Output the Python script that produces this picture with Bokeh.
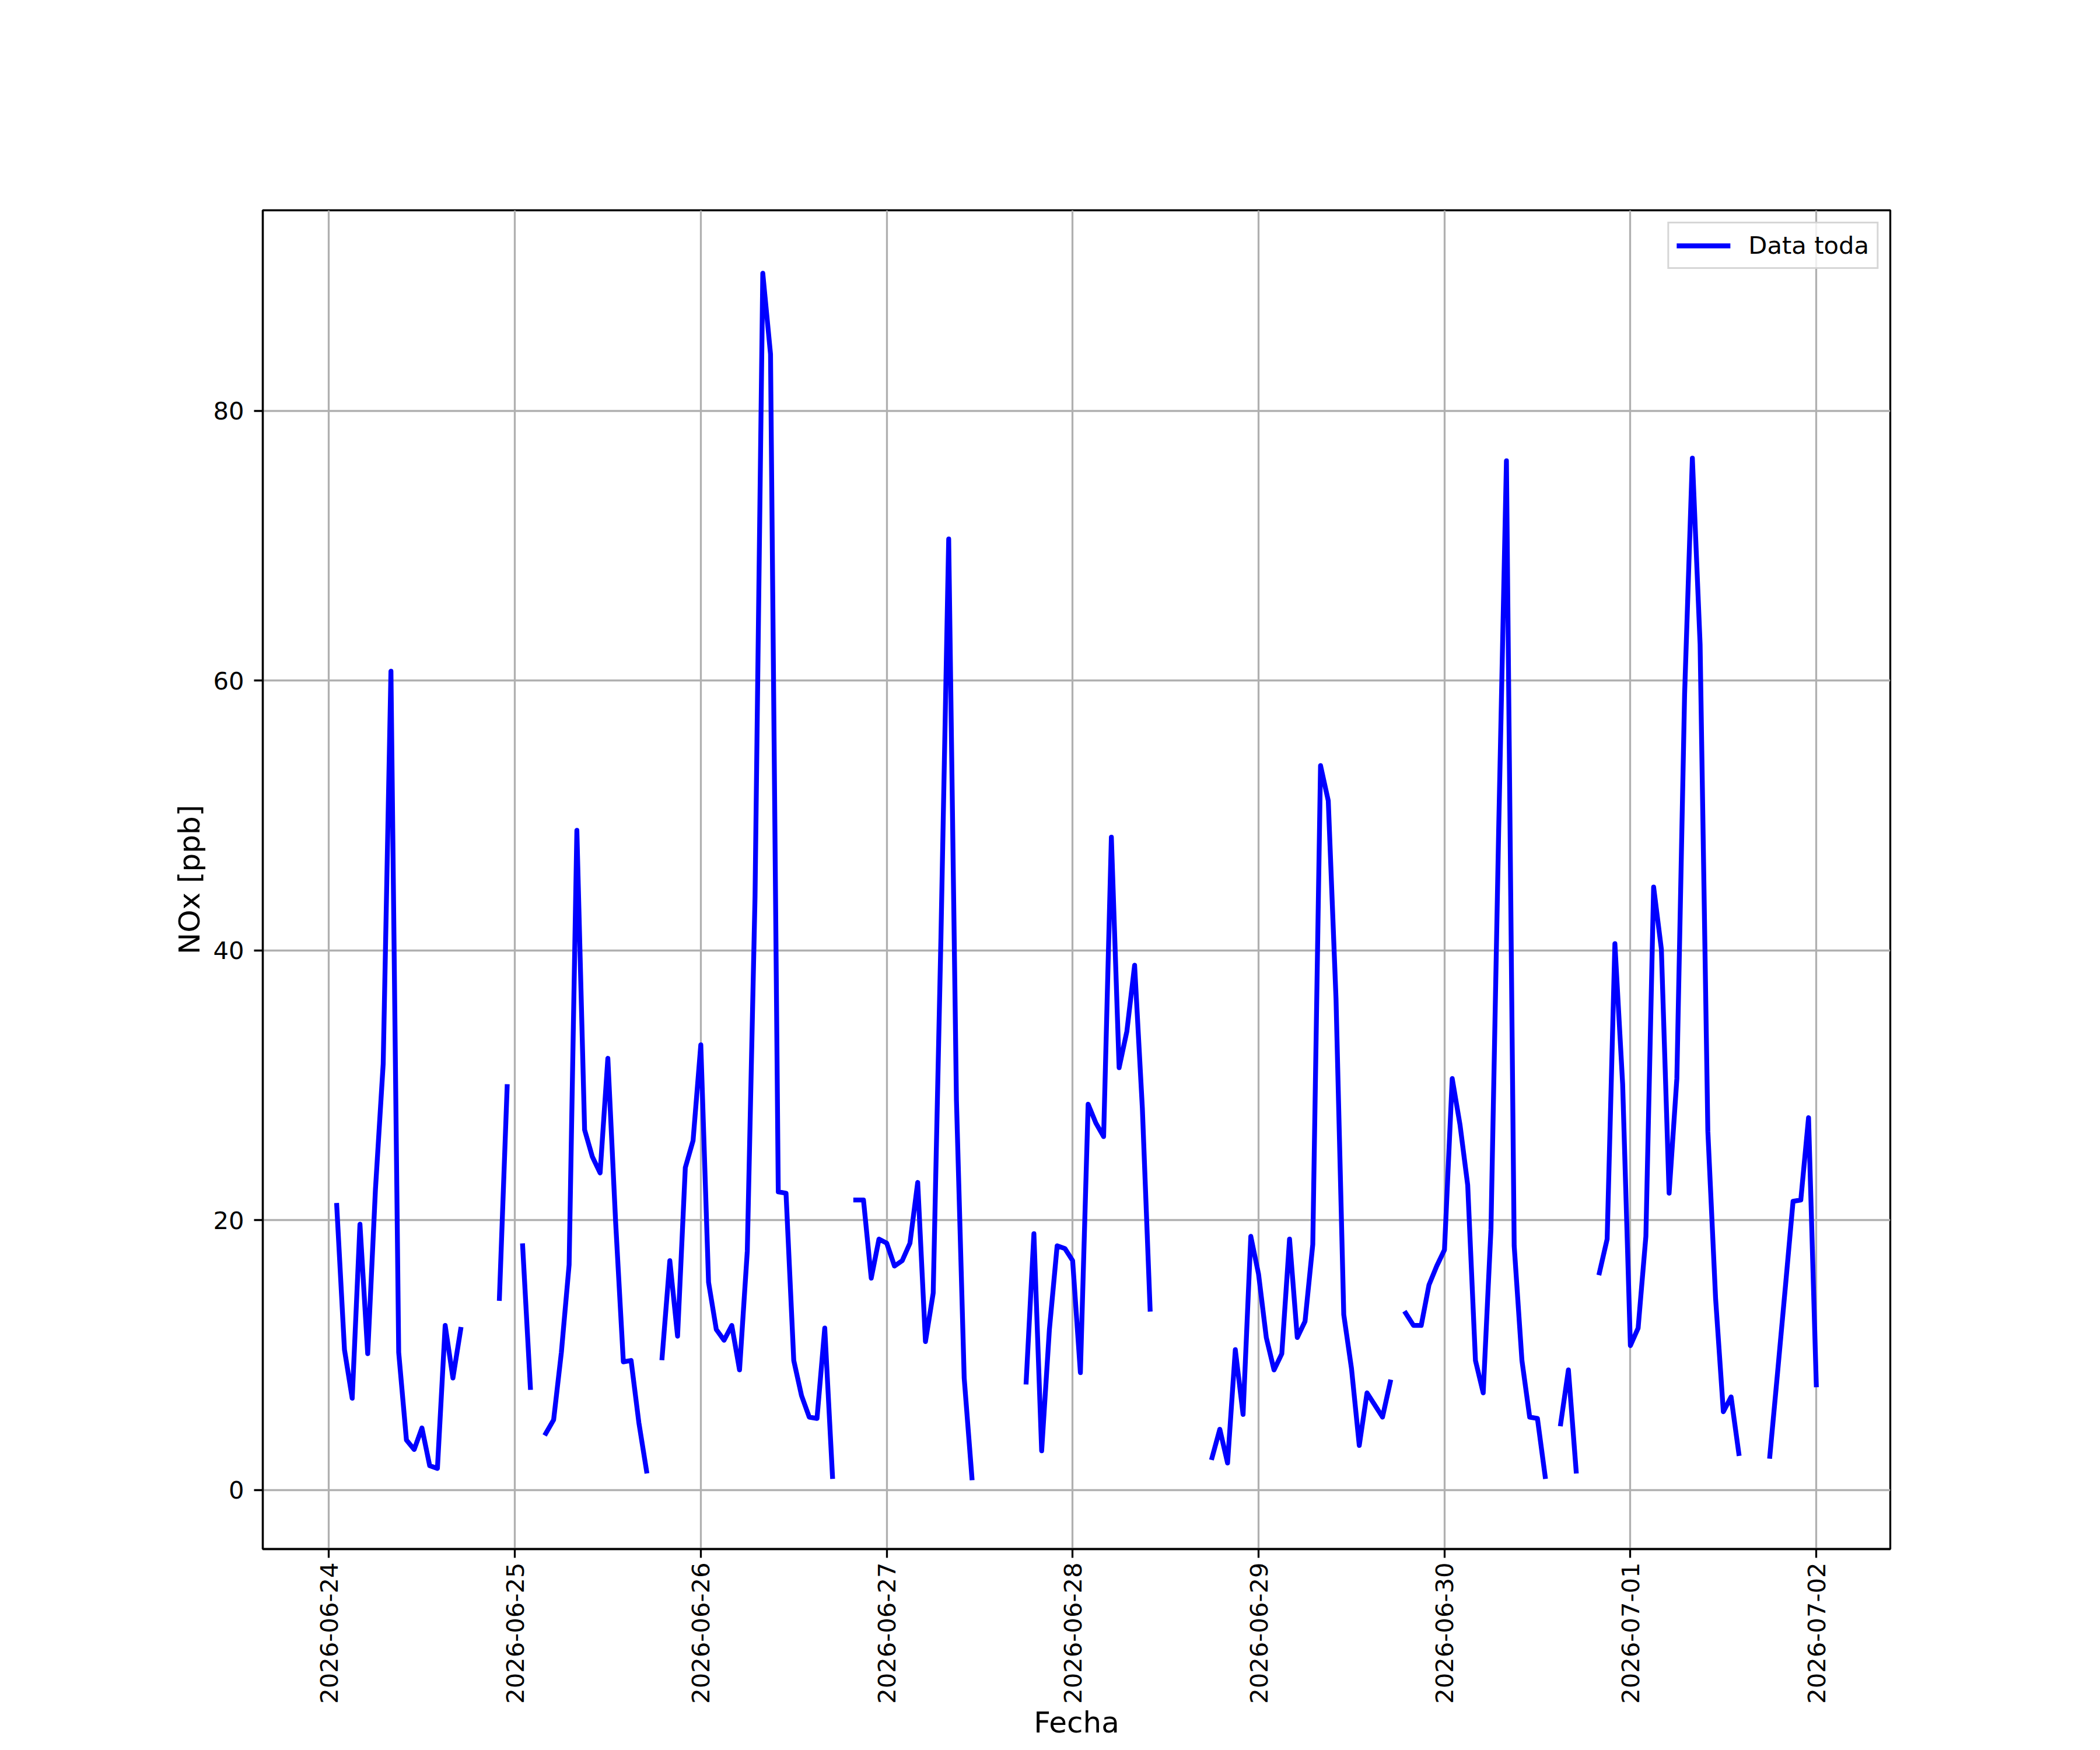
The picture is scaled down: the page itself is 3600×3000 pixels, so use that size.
import numpy as np
import pandas as pd
from bokeh.plotting import figure
from bokeh.models import FixedTicker, DatetimeTickFormatter, Range1d, ColumnDataSource
from bokeh.embed import file_html
from bokeh.resources import INLINE

nan = np.nan

# Hourly NOx [ppb], starting 2026-06-24 01:00
start_time = "2026-06-24 01:00"
nox = [
    21.1, 10.4, 6.8, 19.7, 10.1, 22.3, 31.6, 60.7, 10.2, 3.7, 3.0, 4.6,          # h1-12
    1.8, 1.6, 12.2, 8.3, 11.9, nan, nan, nan, nan, 14.2, 29.9, nan,            # h13-24
    18.1, 7.6, nan, 4.2, 5.2, 10.2, 16.7, 48.9, 26.7, 24.7, 23.5, 32.0,        # h25-36
    19.9, 9.5, 9.6, 5.0, 1.4, nan, 9.8, 17.0, 11.4, 23.9, 25.9, 33.0,          # h37-48
    15.4, 11.9, 11.1, 12.2, 8.9, 17.7, 44.0, 90.2, 84.2, 22.1, 22.0, 9.6,      # h49-60
    7.0, 5.4, 5.3, 12.0, 1.0, nan, nan, 21.5, 21.5, 15.7, 18.6, 18.3,          # h61-72
    16.6, 17.0, 18.3, 22.8, 11.0, 14.6, 41.0, 70.5, 28.9, 8.3, 0.9, nan,       # h73-84
    nan, nan, nan, nan, nan, 8.0, 19.0, 2.9, 11.9, 18.1, 17.9, 17.0,           # h85-96
    8.7, 28.6, 27.2, 26.2, 48.4, 31.3, 34.0, 38.9, 28.3, 13.4, nan, nan,       # h97-108
    nan, nan, nan, nan, nan, 2.4, 4.5, 2.0, 10.4, 5.6, 18.8, 16.0,             # h109-120
    11.3, 8.9, 10.1, 18.6, 11.3, 12.5, 18.2, 53.7, 51.1, 36.4, 13.0, 9.0,      # h121-132
    3.3, 7.2, 6.3, 5.4, 8.0, nan, 13.1, 12.2, 12.2, 15.2, 16.6, 17.8,          # h133-144
    30.5, 27.1, 22.6, 9.6, 7.2, 19.3, 49.0, 76.3, 18.1, 9.6, 5.4, 5.3,         # h145-156
    1.0, nan, 4.9, 8.9, 1.4, nan, nan, 16.1, 18.6, 40.5, 30.1, 10.7,           # h157-168
    12.0, 18.8, 44.7, 40.1, 22.0, 30.5, 59.0, 76.5, 62.7, 26.6, 14.2, 5.8,     # h169-180
    6.9, 2.7, nan, nan, nan, 2.5, 8.7, 15.0, 21.4, 21.5, 27.6, 7.8,            # h181-192
]
times = pd.date_range(start_time, periods=len(nox), freq="h")

tick_days = pd.date_range("2026-06-24", "2026-07-02", freq="D")
y_ticks = [0, 20, 40, 60, 80]

DAY_MS = 86400000.0
base_ms = pd.Timestamp("2026-06-24").value / 1e6
tick_ms = [t.value / 1e6 for t in tick_days]

source = ColumnDataSource(data=dict(t=times, v=nox))

W, H = 3584, 2984
p = figure(
    width=W, height=H,
    x_axis_type="datetime",
    output_backend="svg",
    toolbar_location=None,
    x_range=Range1d(base_ms - 0.356 * DAY_MS, base_ms + 8.398 * DAY_MS),
    y_range=Range1d(-4.38, 94.87),
    min_border_left=450, min_border_right=344,
    min_border_top=360, min_border_bottom=314,
)
p.background_fill_color = "white"
p.border_fill_color = "white"

p.line("t", "v", source=source, line_color="#0000ff", line_width=8.3,
       line_join="round", line_cap="square", legend_label="Data toda")

FONT = "DejaVu Sans"
for ax in (p.xaxis[0], p.yaxis[0]):
    ax.axis_line_width = 3.3
    ax.axis_line_color = "black"
    ax.major_tick_line_width = 3.3
    ax.major_tick_line_color = "black"
    ax.major_tick_out = 15
    ax.major_tick_in = 0
    ax.minor_tick_out = 0
    ax.minor_tick_in = 0
    ax.major_label_text_font = FONT
    ax.major_label_text_font_size = "41.7px"
    ax.major_label_text_color = "black"
    ax.axis_label_text_font = FONT
    ax.axis_label_text_font_size = "50px"
    ax.axis_label_text_font_style = "normal"
    ax.axis_label_text_color = "black"

p.xaxis.ticker = FixedTicker(ticks=tick_ms)
fmt = "%Y-%m-%d"
p.xaxis.formatter = DatetimeTickFormatter(
    milliseconds=fmt, seconds=fmt, minsec=fmt, minutes=fmt, hourmin=fmt,
    hours=fmt, days=fmt, months=fmt, years=fmt)
p.xaxis.major_label_orientation = np.pi / 2
p.xaxis.major_label_standoff = 8
p.xaxis.axis_label = "Fecha"
p.xaxis.axis_label_standoff = 0

p.yaxis.ticker = FixedTicker(ticks=y_ticks)
p.yaxis.major_label_standoff = 17
p.yaxis.axis_label = "NOx [ppb]"
p.yaxis.axis_label_standoff = 8

for g in (p.xgrid[0], p.ygrid[0]):
    g.grid_line_color = "#b0b0b0"
    g.grid_line_width = 3.3

p.outline_line_color = "black"
p.outline_line_width = 3.3
p.outline_line_alpha = 1.0

lg = p.legend[0]
lg.location = "top_right"
lg.margin = 20
lg.padding = 13
lg.spacing = 0
lg.glyph_width = 92
lg.glyph_height = 40
lg.label_standoff = 31
lg.label_text_font = FONT
lg.label_text_font_size = "41.7px"
lg.label_text_color = "black"
lg.border_line_color = "#cccccc"
lg.border_line_width = 3.3
lg.border_line_alpha = 0.8
lg.background_fill_color = "white"
lg.background_fill_alpha = 0.8

open("out.html", "w").write(file_html(p, INLINE))
